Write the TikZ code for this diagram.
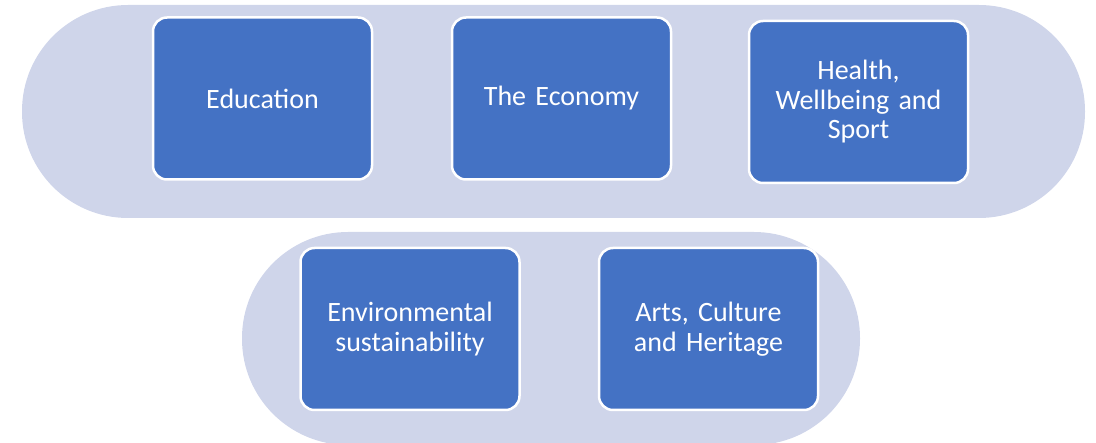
\documentclass[tikz,border=0pt]{standalone}
\usepackage{fontspec}
\setmainfont{Carlito}
\definecolor{boxblue}{HTML}{4472C4}
\definecolor{pill}{HTML}{CFD5EA}
\begin{document}
\begin{tikzpicture}[x=1pt,y=-1pt,
  pillshape/.style={fill=pill, draw=none},
  topic/.style={draw=white, line width=2.5pt, fill=boxblue, rounded corners=14pt,
    minimum width=219pt, minimum height=162pt, inner sep=0pt,
    text=white, align=center, text width=200pt,
    font=\fontsize{28}{29.5}\selectfont}]
\useasboundingbox (0,0) rectangle (1096,443);
% background pills
\path[pillshape, rounded corners=106pt] (22,5) rectangle (1085,218);
\path[pillshape, rounded corners=106pt] (242,232) rectangle (860,445);
% topic boxes
\node[topic] (edu) at (262.5,98.5) {Education};
\node[topic] (eco) at (561.5,98.5) {The Economy};
\node[topic] (hea) at (858.5,102) {Health,\\Wellbeing and\\Sport};
\node[topic] (env) at (410,329) {Environmental\\sustainability};
\node[topic] (art) at (708.5,329) {Arts, Culture\\and Heritage};
\end{tikzpicture}
\end{document}
